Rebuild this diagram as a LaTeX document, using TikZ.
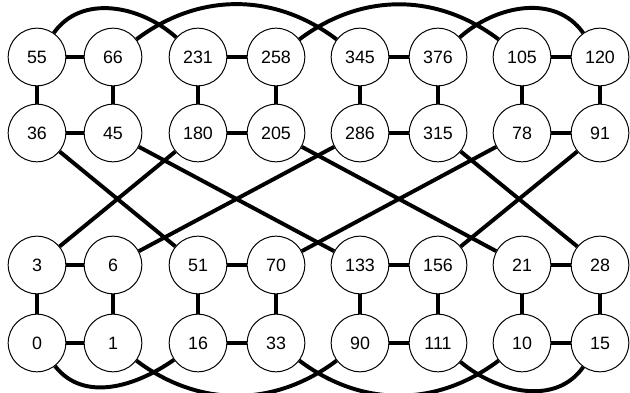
\documentclass[tikz,border=0pt]{standalone}
\usepackage{fontspec}
\setmainfont{Liberation Sans}

\begin{document}
\begin{tikzpicture}[
    x = 0.025cm,
    y = 0.025cm,
    vertex/.style = {
        draw          = black,
        line width    = 0.7pt,
        fill          = white,
        circle,
        minimum size  = 1.44cm,
        inner sep     = 0pt,
        font          = \fontsize{12.7}{14}\selectfont
    },
    link/.style = {line width = 2.8pt}
]
    \useasboundingbox (0,0) rectangle (630,393);

    % upper block
    \node[vertex] (v55)  at (37,336)  {55};
    \node[vertex] (v66)  at (113,336) {66};
    \node[vertex] (v231) at (198,336) {231};
    \node[vertex] (v258) at (276,336) {258};
    \node[vertex] (v345) at (360,336) {345};
    \node[vertex] (v376) at (438,336) {376};
    \node[vertex] (v105) at (522,336) {105};
    \node[vertex] (v120) at (600,336) {120};

    \node[vertex] (v36)  at (37,260)  {36};
    \node[vertex] (v45)  at (113,260) {45};
    \node[vertex] (v180) at (198,260) {180};
    \node[vertex] (v205) at (276,260) {205};
    \node[vertex] (v286) at (360,260) {286};
    \node[vertex] (v315) at (438,260) {315};
    \node[vertex] (v78)  at (522,260) {78};
    \node[vertex] (v91)  at (600,260) {91};

    % lower block
    \node[vertex] (v3)   at (37,128)  {3};
    \node[vertex] (v6)   at (113,128) {6};
    \node[vertex] (v51)  at (198,128) {51};
    \node[vertex] (v70)  at (276,128) {70};
    \node[vertex] (v133) at (360,128) {133};
    \node[vertex] (v156) at (438,128) {156};
    \node[vertex] (v21)  at (522,128) {21};
    \node[vertex] (v28)  at (600,128) {28};

    \node[vertex] (v0)   at (37,50)   {0};
    \node[vertex] (v1)   at (113,50)  {1};
    \node[vertex] (v16)  at (198,50)  {16};
    \node[vertex] (v33)  at (276,50)  {33};
    \node[vertex] (v90)  at (360,50)  {90};
    \node[vertex] (v111) at (438,50)  {111};
    \node[vertex] (v10)  at (522,50)  {10};
    \node[vertex] (v15)  at (600,50)  {15};

    % pairs
    \draw[link] (v55) -- (v66)  (v231) -- (v258)  (v345) -- (v376)  (v105) -- (v120);
    \draw[link] (v36) -- (v45)  (v180) -- (v205)  (v286) -- (v315)  (v78) -- (v91);
    \draw[link] (v3) -- (v6)    (v51) -- (v70)    (v133) -- (v156)  (v21) -- (v28);
    \draw[link] (v0) -- (v1)    (v16) -- (v33)    (v90) -- (v111)   (v10) -- (v15);

    \draw[link] (v55) -- (v36)  (v66) -- (v45)  (v231) -- (v180)  (v258) -- (v205);
    \draw[link] (v345) -- (v286)  (v376) -- (v315)  (v105) -- (v78)  (v120) -- (v91);
    \draw[link] (v3) -- (v0)  (v6) -- (v1)  (v51) -- (v16)  (v70) -- (v33);
    \draw[link] (v133) -- (v90)  (v156) -- (v111)  (v21) -- (v10)  (v28) -- (v15);

    % crossings between the blocks
    \draw[link] (v36) -- (v51)   (v45) -- (v133)  (v180) -- (v3)   (v205) -- (v21);
    \draw[link] (v286) -- (v6)   (v315) -- (v28)  (v78) -- (v70)   (v91) -- (v156);

    % arcs
    \draw[link] (v55)  to[out=55, in=138]  (v231);
    \draw[link] (v66)  to[out=37, in=143]  (v345);
    \draw[link] (v258) to[out=37, in=143]  (v105);
    \draw[link] (v376) to[out=42, in=125]  (v120);

    \draw[link] (v0)   to[out=-52, in=-145] (v16);
    \draw[link] (v1)   to[out=-37, in=-143] (v90);
    \draw[link] (v33)  to[out=-37, in=-143] (v10);
    \draw[link] (v111) to[out=-40, in=-125] (v15);
\end{tikzpicture}
\end{document}
